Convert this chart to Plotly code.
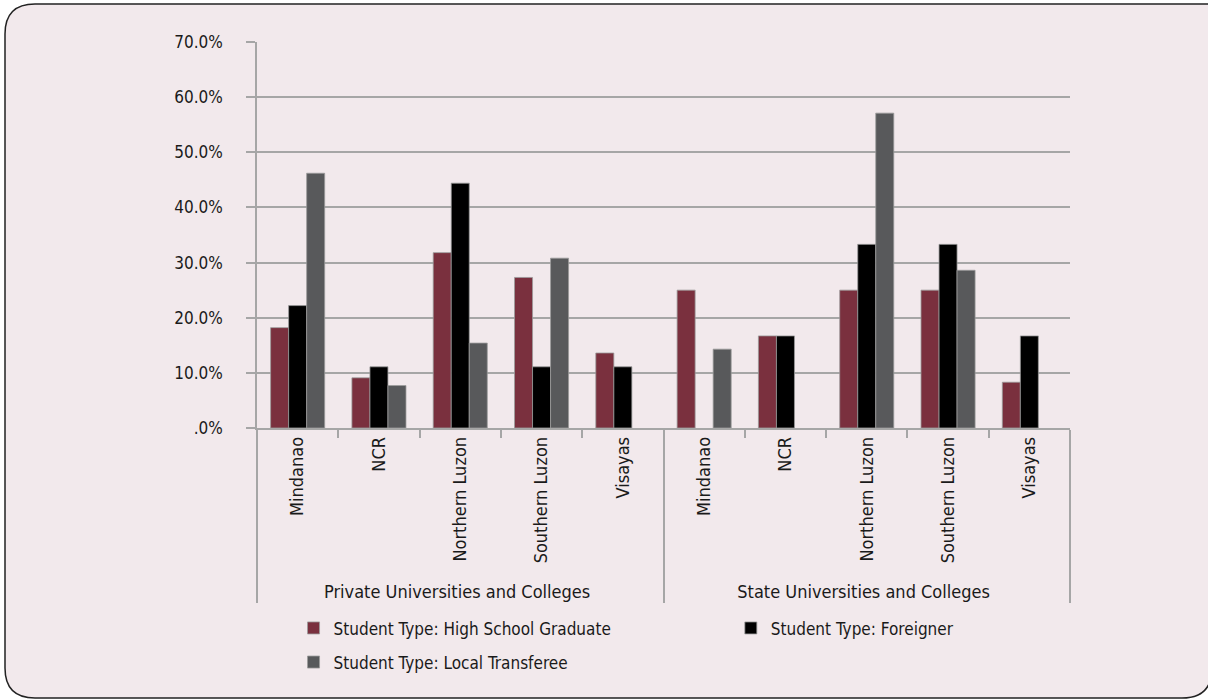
import plotly.graph_objects as go

# Enrolment share by student type, sector and region (percent)
sectors = ["Private Universities and Colleges"] * 5 + ["State Universities and Colleges"] * 5
regions = ["Mindanao", "NCR", "Northern Luzon", "Southern Luzon", "Visayas"] * 2

high_school_graduate = [18.2, 9.1, 31.8, 27.3, 13.6, 25.0, 16.7, 25.0, 25.0, 8.3]
foreigner = [22.2, 11.1, 44.4, 11.1, 11.1, 0.0, 16.7, 33.3, 33.3, 16.7]
local_transferee = [46.2, 7.7, 15.4, 30.8, 0.0, 14.3, 0.0, 57.1, 28.6, 0.0]

y_tick_values = [0, 10, 20, 30, 40, 50, 60, 70]
y_tick_labels = [".0%", "10.0%", "20.0%", "30.0%", "40.0%", "50.0%", "60.0%", "70.0%"]

FONT = "Liberation Sans Narrow, DejaVu Sans Condensed, Arial Narrow, sans-serif"
W, H = 1208, 700
ML, MR, MT, MB = 257, 138, 42, 272
PW, PH = W - ML - MR, H - MT - MB

x = [sectors, regions]

fig = go.Figure()
series = [
    ("Student Type: High School Graduate", high_school_graduate, "#7a303e", "legend"),
    ("Student Type: Foreigner", foreigner, "#000000", "legend2"),
    ("Student Type: Local Transferee", local_transferee, "#58595b", "legend"),
]
for name, vals, color, leg in series:
    # no outline on empty bars so nothing shows at the baseline
    outline = [0.8 if v > 0 else 0 for v in vals]
    fig.add_trace(go.Bar(
        x=x, y=vals, name=name, legend=leg, legendgroup=name,
        marker=dict(color=color, line=dict(color="#9a9a9a", width=outline)),
    ))


def px_x(p):
    return (p - ML) / PW


def px_y(p):
    return (H - MB - p) / PH


# rounded panel behind the chart
left, top, right, bottom, r = 5, 4, 1212, 698, 30
pts = [
    ("M", left, top + r),
    ("Q", left, top, left + r, top),
    ("L", right, top),
    ("L", right, bottom - r),
    ("Q", right, bottom, right - r, bottom),
    ("L", left + r, bottom),
    ("Q", left, bottom, left, bottom - r),
]
path = ""
for seg in pts:
    cmd = seg[0]
    coords = seg[1:]
    parts = []
    for i in range(0, len(coords), 2):
        parts.append(f"{px_x(coords[i]):.5f},{px_y(coords[i + 1]):.5f}")
    path += cmd + " " + " ".join(parts) + " "
path += "Z"

fig.add_shape(type="path", path=path, xref="paper", yref="paper",
              fillcolor="#f2e9ec", line=dict(color="#222222", width=1.5),
              layer="below")

legend_style = dict(
    orientation="v",
    xref="container", yref="container",
    yanchor="top", xanchor="left",
    font=dict(family=FONT, size=17, color="#1a1a1a"),
    bgcolor="rgba(0,0,0,0)",
    traceorder="grouped",
    tracegroupgap=9,
)

fig.update_layout(
    width=W, height=H,
    margin=dict(l=ML, r=MR, t=MT, b=MB, pad=0, autoexpand=False),
    paper_bgcolor="white",
    plot_bgcolor="rgba(0,0,0,0)",
    font=dict(family=FONT, size=17, color="#1a1a1a"),
    barmode="group",
    bargap=0.335,
    bargroupgap=0,
    showlegend=True,
    legend=dict(x=0.243, y=0.128, **legend_style),
    legend2=dict(x=0.605, y=0.128, **legend_style),
)

fig.update_yaxes(
    range=[0, 70],
    tickvals=y_tick_values, ticktext=y_tick_labels,
    showgrid=True, gridcolor="#a6a6a6", gridwidth=1.5,
    showline=True, linecolor="#a6a6a6", linewidth=1.5,
    ticks="outside", ticklen=9, tickcolor="#a6a6a6", tickwidth=1.5,
    ticklabelstandoff=20,
    zeroline=False,
)

fig.update_xaxes(
    type="multicategory",
    showline=True, linecolor="#a6a6a6", linewidth=1.5,
    ticks="outside", ticklen=8, tickcolor="#a6a6a6", tickwidth=1.5,
    tickangle=-90,
    tickfont=dict(size=18),
    showdividers=True, dividercolor="#a6a6a6", dividerwidth=1.5,
    showgrid=False,
)

fig.write_html("out.html")
